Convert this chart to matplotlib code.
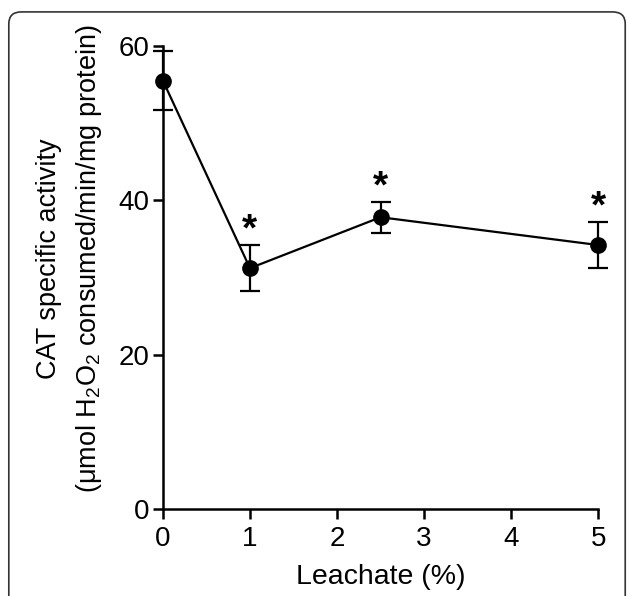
import numpy as np
import matplotlib.pyplot as plt
from matplotlib.patches import FancyBboxPatch

plt.rcParams['font.family'] = ['Liberation Sans', 'DejaVu Sans']
plt.rcParams['mathtext.fontset'] = 'custom'
plt.rcParams['mathtext.rm'] = 'Liberation Sans'
plt.rcParams['mathtext.it'] = 'Liberation Sans:italic'

# dados
leachate = [0, 1, 2.5, 5]
cat_activity = [55.5, 31.2, 37.8, 34.2]
cat_err = [3.8, 3.0, 2.0, 3.0]
significant = [False, True, True, True]

fig = plt.figure(figsize=(6.29, 5.96), dpi=100)
ax = fig.add_axes([0.259, 0.146, 0.692, 0.777])

ax.errorbar(leachate, cat_activity, yerr=cat_err, color='k', lw=1.6,
            marker='o', markersize=11, capsize=7, capthick=1.6,
            elinewidth=1.6, clip_on=False, zorder=3)

for xi, yi, ei, s in zip(leachate, cat_activity, cat_err, significant):
    if s:
        ax.text(xi, yi + ei + 0.6, '*', ha='center', va='baseline',
                fontsize=28, fontweight='bold')

ax.set_xlim(0, 5)
ax.set_ylim(0, 60)
ax.set_xticks([0, 1, 2, 3, 4, 5])
ax.set_yticks([0, 20, 40, 60])
for s in ['top', 'right']:
    ax.spines[s].set_visible(False)
for s in ['left', 'bottom']:
    ax.spines[s].set_linewidth(1.8)
ax.tick_params(width=1.8, length=7, labelsize=20)
ax.tick_params(axis='x', pad=5)
ax.tick_params(axis='y', pad=3)

ax.set_xlabel('Leachate (%)', fontsize=20.5, labelpad=9)
ax.set_ylabel('CAT specific activity\n(μmol H$_\\mathrm{2}$O$_\\mathrm{2}$ consumed/min/mg protein)',
              fontsize=19.5, linespacing=1.55)
ax.yaxis.set_label_coords(-0.135, 0.54)

# moldura arredondada
frame = FancyBboxPatch((0.014, -0.05), 0.98, 1.03, transform=fig.transFigure,
                       boxstyle='round,pad=0,rounding_size=0.02',
                       fill=False, ec='#333333', lw=1.2)
fig.patches.append(frame)

fig.savefig('out.png', dpi=100)
